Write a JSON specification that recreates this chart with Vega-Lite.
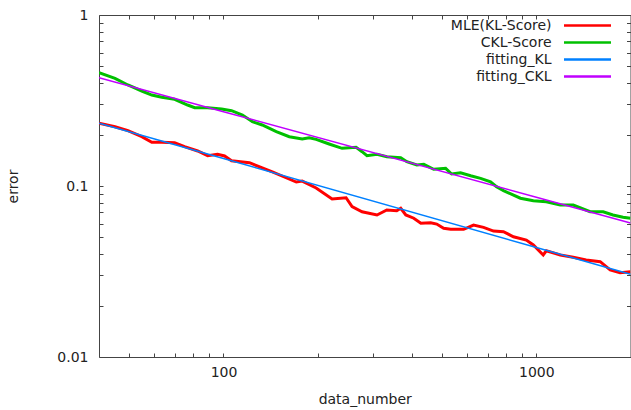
{
  "$schema": "https://vega.github.io/schema/vega-lite/v6.json",
  "width": 531.5,
  "height": 342,
  "autosize": "none",
  "padding": {"left": 99, "top": 15, "right": 0, "bottom": 53},
  "background": "white",
  "config": {
    "view": {"stroke": null},
    "font": "DejaVu Sans",
    "axis": {
      "grid": false,
      "domainColor": "#444444",
      "domainWidth": 1,
      "tickColor": "#444444",
      "tickSize": -4,
      "tickWidth": 1,
      "labelFont": "DejaVu Sans",
      "labelFontSize": 14,
      "labelColor": "#222222",
      "labelFontWeight": "normal",
      "titleFont": "DejaVu Sans",
      "titleFontSize": 14,
      "titleFontWeight": "normal",
      "titleColor": "#222222",
      "labelOverlap": false,
      "labelFlush": false
    },
    "legend": {
      "labelFont": "DejaVu Sans",
      "labelFontSize": 14,
      "labelColor": "#222222"
    }
  },
  "data": {
    "values": [
      {"x": 40, "y": 0.2326, "s": "MLE(KL-Score)"},
      {"x": 45, "y": 0.2222, "s": "MLE(KL-Score)"},
      {"x": 49.5, "y": 0.2106, "s": "MLE(KL-Score)"},
      {"x": 54.8, "y": 0.1942, "s": "MLE(KL-Score)"},
      {"x": 59, "y": 0.1801, "s": "MLE(KL-Score)"},
      {"x": 63.5, "y": 0.1801, "s": "MLE(KL-Score)"},
      {"x": 69.8, "y": 0.1791, "s": "MLE(KL-Score)"},
      {"x": 75.1, "y": 0.1698, "s": "MLE(KL-Score)"},
      {"x": 82.7, "y": 0.1602, "s": "MLE(KL-Score)"},
      {"x": 89, "y": 0.1504, "s": "MLE(KL-Score)"},
      {"x": 95.7, "y": 0.1533, "s": "MLE(KL-Score)"},
      {"x": 100.8, "y": 0.1498, "s": "MLE(KL-Score)"},
      {"x": 106.1, "y": 0.1406, "s": "MLE(KL-Score)"},
      {"x": 121, "y": 0.1369, "s": "MLE(KL-Score)"},
      {"x": 143.3, "y": 0.1208, "s": "MLE(KL-Score)"},
      {"x": 170.9, "y": 0.1055, "s": "MLE(KL-Score)"},
      {"x": 178.5, "y": 0.1069, "s": "MLE(KL-Score)"},
      {"x": 197.8, "y": 0.0973, "s": "MLE(KL-Score)"},
      {"x": 222.4, "y": 0.0839, "s": "MLE(KL-Score)"},
      {"x": 246.5, "y": 0.0854, "s": "MLE(KL-Score)"},
      {"x": 257.6, "y": 0.0757, "s": "MLE(KL-Score)"},
      {"x": 277.3, "y": 0.0707, "s": "MLE(KL-Score)"},
      {"x": 309.5, "y": 0.0677, "s": "MLE(KL-Score)"},
      {"x": 332.7, "y": 0.0724, "s": "MLE(KL-Score)"},
      {"x": 358, "y": 0.0717, "s": "MLE(KL-Score)"},
      {"x": 368.6, "y": 0.0741, "s": "MLE(KL-Score)"},
      {"x": 382.7, "y": 0.0677, "s": "MLE(KL-Score)"},
      {"x": 405.8, "y": 0.0648, "s": "MLE(KL-Score)"},
      {"x": 427.5, "y": 0.0605, "s": "MLE(KL-Score)"},
      {"x": 459.7, "y": 0.061, "s": "MLE(KL-Score)"},
      {"x": 480.4, "y": 0.0599, "s": "MLE(KL-Score)"},
      {"x": 505.7, "y": 0.0566, "s": "MLE(KL-Score)"},
      {"x": 532.6, "y": 0.0558, "s": "MLE(KL-Score)"},
      {"x": 585.6, "y": 0.0558, "s": "MLE(KL-Score)"},
      {"x": 630, "y": 0.0591, "s": "MLE(KL-Score)"},
      {"x": 678, "y": 0.0573, "s": "MLE(KL-Score)"},
      {"x": 729.8, "y": 0.0545, "s": "MLE(KL-Score)"},
      {"x": 785.3, "y": 0.054, "s": "MLE(KL-Score)"},
      {"x": 845, "y": 0.0505, "s": "MLE(KL-Score)"},
      {"x": 929, "y": 0.0483, "s": "MLE(KL-Score)"},
      {"x": 978.4, "y": 0.0452, "s": "MLE(KL-Score)"},
      {"x": 1052, "y": 0.0395, "s": "MLE(KL-Score)"},
      {"x": 1076, "y": 0.0418, "s": "MLE(KL-Score)"},
      {"x": 1193, "y": 0.0395, "s": "MLE(KL-Score)"},
      {"x": 1312, "y": 0.0383, "s": "MLE(KL-Score)"},
      {"x": 1443, "y": 0.0369, "s": "MLE(KL-Score)"},
      {"x": 1600, "y": 0.0361, "s": "MLE(KL-Score)"},
      {"x": 1722, "y": 0.0323, "s": "MLE(KL-Score)"},
      {"x": 1852, "y": 0.0311, "s": "MLE(KL-Score)"},
      {"x": 2000, "y": 0.0315, "s": "MLE(KL-Score)"},
      {"x": 40, "y": 0.4598, "s": "CKL-Score"},
      {"x": 45, "y": 0.4264, "s": "CKL-Score"},
      {"x": 49.5, "y": 0.3897, "s": "CKL-Score"},
      {"x": 54.8, "y": 0.3594, "s": "CKL-Score"},
      {"x": 59, "y": 0.3404, "s": "CKL-Score"},
      {"x": 63.5, "y": 0.33, "s": "CKL-Score"},
      {"x": 69.8, "y": 0.3213, "s": "CKL-Score"},
      {"x": 76.8, "y": 0.2976, "s": "CKL-Score"},
      {"x": 80.9, "y": 0.287, "s": "CKL-Score"},
      {"x": 89, "y": 0.287, "s": "CKL-Score"},
      {"x": 98.6, "y": 0.282, "s": "CKL-Score"},
      {"x": 106.1, "y": 0.2756, "s": "CKL-Score"},
      {"x": 115, "y": 0.2602, "s": "CKL-Score"},
      {"x": 123.7, "y": 0.2377, "s": "CKL-Score"},
      {"x": 133, "y": 0.2274, "s": "CKL-Score"},
      {"x": 147.5, "y": 0.2077, "s": "CKL-Score"},
      {"x": 162.3, "y": 0.1942, "s": "CKL-Score"},
      {"x": 178.5, "y": 0.1883, "s": "CKL-Score"},
      {"x": 187.9, "y": 0.1916, "s": "CKL-Score"},
      {"x": 197.8, "y": 0.1875, "s": "CKL-Score"},
      {"x": 217.6, "y": 0.1761, "s": "CKL-Score"},
      {"x": 239.4, "y": 0.1661, "s": "CKL-Score"},
      {"x": 265.4, "y": 0.1684, "s": "CKL-Score"},
      {"x": 277.3, "y": 0.1587, "s": "CKL-Score"},
      {"x": 287.5, "y": 0.1504, "s": "CKL-Score"},
      {"x": 309.5, "y": 0.1533, "s": "CKL-Score"},
      {"x": 332.7, "y": 0.1484, "s": "CKL-Score"},
      {"x": 368.6, "y": 0.1464, "s": "CKL-Score"},
      {"x": 385.5, "y": 0.1387, "s": "CKL-Score"},
      {"x": 415, "y": 0.1327, "s": "CKL-Score"},
      {"x": 436.7, "y": 0.1339, "s": "CKL-Score"},
      {"x": 469.9, "y": 0.1252, "s": "CKL-Score"},
      {"x": 513, "y": 0.1269, "s": "CKL-Score"},
      {"x": 536, "y": 0.1175, "s": "CKL-Score"},
      {"x": 572.5, "y": 0.1196, "s": "CKL-Score"},
      {"x": 616.6, "y": 0.1149, "s": "CKL-Score"},
      {"x": 663.4, "y": 0.1109, "s": "CKL-Score"},
      {"x": 714, "y": 0.1059, "s": "CKL-Score"},
      {"x": 745.9, "y": 0.0991, "s": "CKL-Score"},
      {"x": 785.3, "y": 0.0939, "s": "CKL-Score"},
      {"x": 889.5, "y": 0.0848, "s": "CKL-Score"},
      {"x": 978.4, "y": 0.082, "s": "CKL-Score"},
      {"x": 1076, "y": 0.0809, "s": "CKL-Score"},
      {"x": 1193, "y": 0.0774, "s": "CKL-Score"},
      {"x": 1312, "y": 0.0774, "s": "CKL-Score"},
      {"x": 1486, "y": 0.0707, "s": "CKL-Score"},
      {"x": 1635, "y": 0.0707, "s": "CKL-Score"},
      {"x": 1758, "y": 0.0677, "s": "CKL-Score"},
      {"x": 1893, "y": 0.0656, "s": "CKL-Score"},
      {"x": 2000, "y": 0.0648, "s": "CKL-Score"},
      {"x": 40, "y": 0.233, "s": "fitting_KL"},
      {"x": 100, "y": 0.1447, "s": "fitting_KL"},
      {"x": 1000, "y": 0.0437, "s": "fitting_KL"},
      {"x": 2000, "y": 0.0305, "s": "fitting_KL"},
      {"x": 40, "y": 0.43, "s": "fitting_CKL"},
      {"x": 100, "y": 0.272, "s": "fitting_CKL"},
      {"x": 1000, "y": 0.086, "s": "fitting_CKL"},
      {"x": 2000, "y": 0.0608, "s": "fitting_CKL"}
    ]
  },
  "layer": [
    {
      "transform": [{"filter": {"field": "s", "oneOf": ["MLE(KL-Score)", "CKL-Score"]}}],
      "mark": {"type": "line", "clip": true, "strokeWidth": 3},
      "encoding": {
        "x": {
          "field": "x", "type": "quantitative",
          "scale": {"type": "log", "domain": [40, 2000], "nice": false},
          "axis": {
            "orient": "bottom",
            "title": "data_number",
            "values": [50, 60, 70, 80, 90, 100, 200, 300, 400, 500, 600, 700, 800, 900, 1000, 2000],
            "labelExpr": "datum.value == 100 ? '100' : datum.value == 1000 ? '1000' : ''",
            "labelPadding": 12,
            "titlePadding": 13
          }
        },
        "y": {
          "field": "y", "type": "quantitative",
          "scale": {"type": "log", "domain": [0.01, 1], "nice": false},
          "axis": {
            "orient": "left",
            "title": "error",
            "values": [0.01, 0.02, 0.03, 0.04, 0.05, 0.06, 0.07, 0.08, 0.09, 0.1, 0.2, 0.3, 0.4, 0.5, 0.6, 0.7, 0.8, 0.9, 1],
            "labelExpr": "datum.value == 0.01 ? '0.01' : datum.value == 0.1 ? '0.1' : datum.value == 1 ? '1' : ''",
            "labelPadding": 15,
            "titlePadding": 36
          }
        },
        "color": {
          "field": "s", "type": "nominal",
          "scale": {
            "domain": ["MLE(KL-Score)", "CKL-Score", "fitting_KL", "fitting_CKL"],
            "range": ["#ff0000", "#00c000", "#0080ff", "#c000ff"]
          },
          "legend": {
            "title": null,
            "orient": "none",
            "legendX": 481,
            "legendY": 3,
            "symbolType": "M-4,0H4",
            "symbolSize": 138,
            "symbolStrokeWidth": 2.5,
            "symbolOffset": 0,
            "rowPadding": 2,
            "labelAlign": "right",
            "labelOffset": -43.5
          }
        }
      }
    },
    {
      "transform": [{"filter": {"field": "s", "oneOf": ["fitting_KL", "fitting_CKL"]}}],
      "mark": {"type": "line", "clip": true, "strokeWidth": 1.5},
      "encoding": {
        "x": {"field": "x", "type": "quantitative", "axis": null},
        "y": {"field": "y", "type": "quantitative", "axis": null},
        "color": {"field": "s", "type": "nominal"}
      }
    },
    {
      "mark": {"type": "point", "opacity": 0},
      "encoding": {
        "x": {
          "field": "x", "type": "quantitative",
          "axis": {
            "orient": "top",
            "title": null,
            "labels": false,
            "values": [50, 60, 70, 80, 90, 100, 200, 300, 400, 500, 600, 700, 800, 900, 1000, 2000]
          }
        },
        "y": {
          "field": "y", "type": "quantitative",
          "axis": {
            "orient": "right",
            "title": null,
            "labels": false,
            "values": [0.01, 0.02, 0.03, 0.04, 0.05, 0.06, 0.07, 0.08, 0.09, 0.1, 0.2, 0.3, 0.4, 0.5, 0.6, 0.7, 0.8, 0.9, 1]
          }
        }
      }
    }
  ]
}
